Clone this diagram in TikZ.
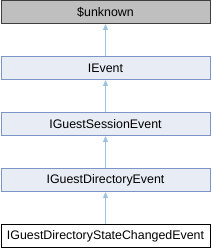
\documentclass[tikz,border=0pt]{standalone}
\usepackage{fontspec}
\setmainfont{Liberation Sans}
\usetikzlibrary{arrows.meta}
\definecolor{dxgrey}{RGB}{191,191,191}
\definecolor{dxfill}{RGB}{232,236,244}
\definecolor{dxborder}{RGB}{124,149,198}
\definecolor{dxarrow}{RGB}{156,196,225}

\begin{document}
\begin{tikzpicture}[x=1pt, y=1pt,
    classbox/.style={rectangle, draw=dxborder, fill=dxfill, line width=1pt,
                 minimum width=209pt, minimum height=23pt, inner sep=0pt,
                 font=\fontsize{12.4}{14}\selectfont},
    inh/.style={-{Triangle[length=6pt, width=5pt]}, line width=1pt, dxarrow}
]
\useasboundingbox (0,0) rectangle (211,-248);
\node[classbox, fill=dxgrey, draw=black!75] (unknown) at (105.5,-12)  {\$unknown};
\node[classbox]                          (ievent)  at (105.5,-68)  {IEvent};
\node[classbox]                          (session) at (105.5,-124) {IGuestSessionEvent};
\node[classbox]                          (direv)   at (105.5,-180) {IGuestDirectoryEvent};
\node[classbox, fill=white, draw=black]  (statev)  at (105.5,-236) {IGuestDirectoryStateChangedEvent};

\draw[inh] (ievent.north) -- (unknown.south);
\draw[inh] (session.north) -- (ievent.south);
\draw[inh] (direv.north) -- (session.south);
\draw[inh] (statev.north) -- (direv.south);
\end{tikzpicture}
\end{document}
